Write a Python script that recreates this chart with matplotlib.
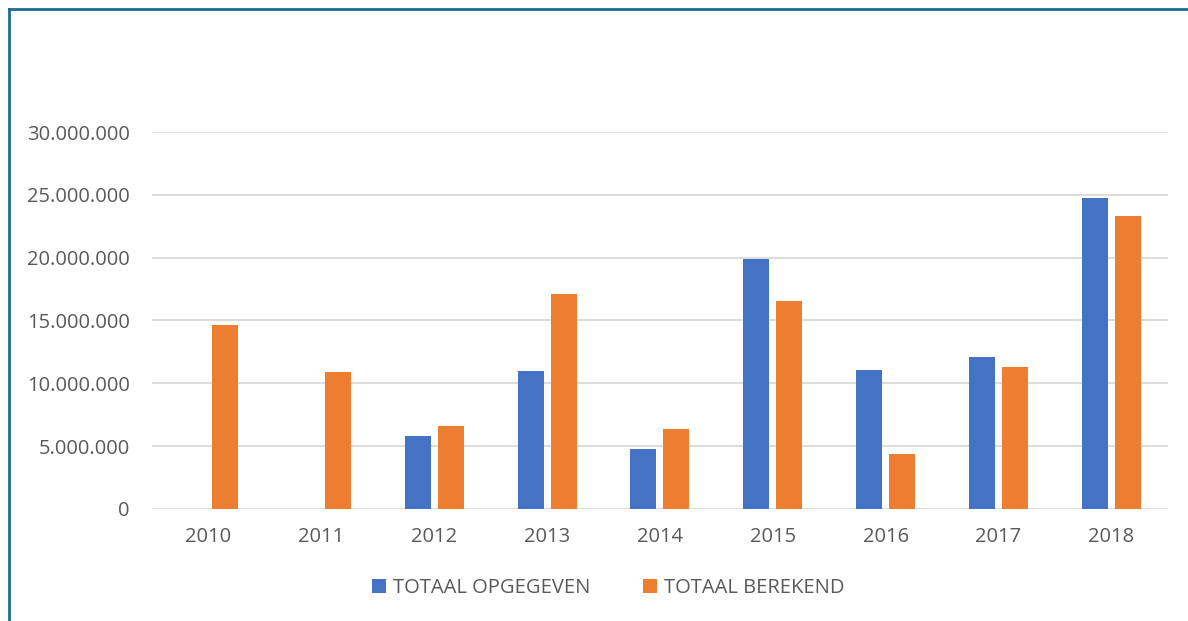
import numpy as np
import matplotlib.pyplot as plt
from matplotlib.lines import Line2D
from matplotlib.ticker import FuncFormatter

# data
years = ["2010", "2011", "2012", "2013", "2014", "2015", "2016", "2017", "2018"]
opgegeven = [0, 0, 5.8e6, 10.95e6, 4.75e6, 19.9e6, 11.05e6, 12.1e6, 24.75e6]
berekend = [14.65e6, 10.9e6, 6.6e6, 17.1e6, 6.35e6, 16.55e6, 4.4e6, 11.3e6, 23.3e6]

plt.rcParams['font.family'] = ['Open Sans', 'DejaVu Sans']
text_color = "#595959"

fig = plt.figure(figsize=(11.88, 6.21), dpi=100)
ax = fig.add_axes([0.128, 0.1804, 0.855, 0.607])

x = np.arange(len(years))
w = 0.23
ax.bar(x - 0.146, opgegeven, width=w, color="#4472C4", label="TOTAAL OPGEGEVEN", zorder=3)
ax.bar(x + 0.146, berekend, width=w, color="#ED7D31", label="TOTAAL BEREKEND", zorder=3)

ax.set_xlim(-0.5, len(years) - 0.5)
ax.set_ylim(0, 30e6)
ax.set_yticks(np.arange(0, 30e6 + 1, 5e6))
ax.yaxis.set_major_formatter(FuncFormatter(lambda v, p: f"{int(v):,}".replace(",", ".")))
ax.set_xticks(x)
ax.set_xticklabels(years)
ax.grid(axis="y", color="#D9D9D9", linewidth=1.3, zorder=0)
ax.set_axisbelow(True)
for s in ["top", "right", "left", "bottom"]:
    ax.spines[s].set_visible(False)
ax.tick_params(length=0, colors=text_color, labelsize=14.5)
ax.tick_params(axis="y", pad=16)
ax.tick_params(axis="x", pad=13)

ax.legend(loc="center", bbox_to_anchor=(0.449, -0.21), ncol=2, frameon=False,
          fontsize=14.5, labelcolor=text_color, handlelength=0.7, handleheight=0.7,
          handletextpad=0.35, columnspacing=2.6)

# frame of the chart area (only top and left visible)
fig.add_artist(Line2D([9 / 1188, 1], [1 - 9 / 621, 1 - 9 / 621], color="#1F6A94", linewidth=2))
fig.add_artist(Line2D([9 / 1188, 9 / 1188], [0, 1 - 9 / 621], color="#1F6A94", linewidth=2))

fig.savefig("out.png", dpi=100)
